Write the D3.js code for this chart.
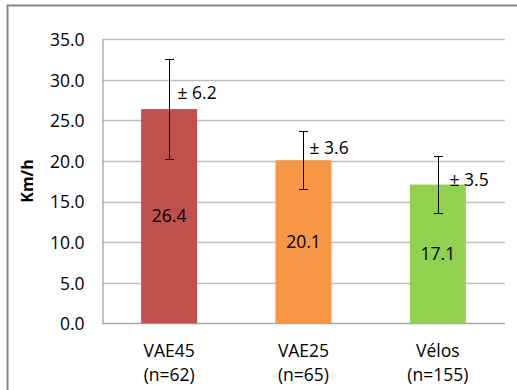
<!DOCTYPE html>
<html>
<head>
<meta charset="utf-8">
<script src="https://cdn.jsdelivr.net/npm/d3@7"></script>
<style>
  body { margin: 0; background: #fff; }
  svg text { font-family: "Open Sans", "Liberation Sans", Arial, sans-serif; fill: #000; }
</style>
</head>
<body>
<div class="chart"></div>
<script>
const width = 517;
const height = 390;

// data
const categories = ['VAE45', 'VAE25', 'Vélos'];
const counts = ['(n=62)', '(n=65)', '(n=155)'];
const speeds = [26.4, 20.1, 17.1];
const stdDevs = [6.2, 3.6, 3.5];
const colors = ['#C0504D', '#F79646', '#92D050'];
const yTicks = [0, 5, 10, 15, 20, 25, 30, 35];

// where the "±" labels sit relative to error bar / bar top (layout only)
const errLabelDx = [8, 6, 11];
const errLabelDy = [-16, -12.5, -5.3];

const plot = { left: 102, right: 505, top: 39.3, bottom: 323.3 };
const fontSize = 17.5;

const svg = d3.select('.chart').append('svg')
    .attr('width', width)
    .attr('height', height);

// outer chart border (left + top only are visible)
svg.append('path')
    .attr('d', `M7.5,${height} L7.5,5.5 L${width},5.5`)
    .attr('fill', 'none')
    .attr('stroke', '#868686')
    .attr('stroke-width', 2);

const yScale = d3.scaleLinear()
    .domain([0, 35])
    .range([plot.bottom, plot.top]);

const xScale = d3.scaleBand()
    .domain(categories)
    .range([plot.left, plot.right])
    .paddingInner(0.58)
    .paddingOuter(0.29);

/* gridlines */
svg.append('g')
    .selectAll('line')
    .data(yTicks)
    .enter()
    .append('line')
    .attr('x1', plot.left)
    .attr('x2', plot.right)
    .attr('y1', d => Math.round(yScale(d)) + 0.5)
    .attr('y2', d => Math.round(yScale(d)) + 0.5)
    .attr('stroke', d => d === 0 ? '#a6a6a6' : '#bfbfbf')
    .attr('stroke-width', 1.3);

/* y axis */
const yAxis = d3.axisLeft(yScale)
    .tickValues(yTicks)
    .tickFormat(d3.format('.1f'))
    .tickSize(0)
    .tickPadding(18);
const yG = svg.append('g')
    .attr('class', 'y-axis')
    .attr('transform', `translate(${plot.left + 0.5}, 0)`)
    .call(yAxis);
yG.select('.domain').attr('stroke', '#a6a6a6').attr('stroke-width', 1.3);
yG.selectAll('text').attr('font-size', fontSize).attr('dy', '0.36em');

svg.append('text')
    .attr('transform', 'translate(33, 181) rotate(-90)')
    .attr('text-anchor', 'middle')
    .attr('font-size', 16)
    .attr('font-weight', 'bold')
    .text('Km/h');

/* bars */
const barW = 56;
const bars = svg.append('g')
    .selectAll('g')
    .data(categories)
    .enter()
    .append('g');

bars.append('rect')
    .attr('x', d => xScale(d) + xScale.bandwidth() / 2 - barW / 2)
    .attr('y', (d, i) => yScale(speeds[i]))
    .attr('width', barW)
    .attr('height', (d, i) => plot.bottom - yScale(speeds[i]))
    .attr('fill', (d, i) => colors[i]);

/* value labels inside bars */
bars.append('text')
    .attr('x', d => xScale(d) + xScale.bandwidth() / 2)
    .attr('y', (d, i) => (yScale(speeds[i]) + plot.bottom) / 2)
    .attr('dy', '0.36em')
    .attr('text-anchor', 'middle')
    .attr('font-size', fontSize)
    .text((d, i) => speeds[i].toFixed(1));

/* error bars */
const cx = d => Math.round(xScale(d) + xScale.bandwidth() / 2) + 0.5;
bars.append('line')
    .attr('x1', cx).attr('x2', cx)
    .attr('y1', (d, i) => yScale(speeds[i] + stdDevs[i]))
    .attr('y2', (d, i) => yScale(speeds[i] - stdDevs[i]))
    .attr('stroke', '#000')
    .attr('stroke-width', 1);
[1, -1].forEach(sign => {
    bars.append('line')
        .attr('x1', d => cx(d) - 4.5).attr('x2', d => cx(d) + 4.5)
        .attr('y1', (d, i) => Math.round(yScale(speeds[i] + sign * stdDevs[i])) + 0.5)
        .attr('y2', (d, i) => Math.round(yScale(speeds[i] + sign * stdDevs[i])) + 0.5)
        .attr('stroke', '#000')
        .attr('stroke-width', 1);
});

bars.append('text')
    .attr('x', (d, i) => cx(d) + errLabelDx[i])
    .attr('y', (d, i) => yScale(speeds[i]) + errLabelDy[i])
    .attr('dy', '0.36em')
    .attr('font-size', fontSize)
    .text((d, i) => '± ' + stdDevs[i].toFixed(1));

/* x labels */
const xl = svg.append('g')
    .selectAll('text')
    .data(categories)
    .enter()
    .append('text')
    .attr('x', d => xScale(d) + xScale.bandwidth() / 2)
    .attr('text-anchor', 'middle')
    .attr('font-size', fontSize);
xl.append('tspan')
    .attr('x', d => xScale(d) + xScale.bandwidth() / 2)
    .attr('y', 357)
    .text(d => d);
xl.append('tspan')
    .attr('x', d => xScale(d) + xScale.bandwidth() / 2)
    .attr('y', 381)
    .text((d, i) => counts[i]);
</script>
</body>
</html>
